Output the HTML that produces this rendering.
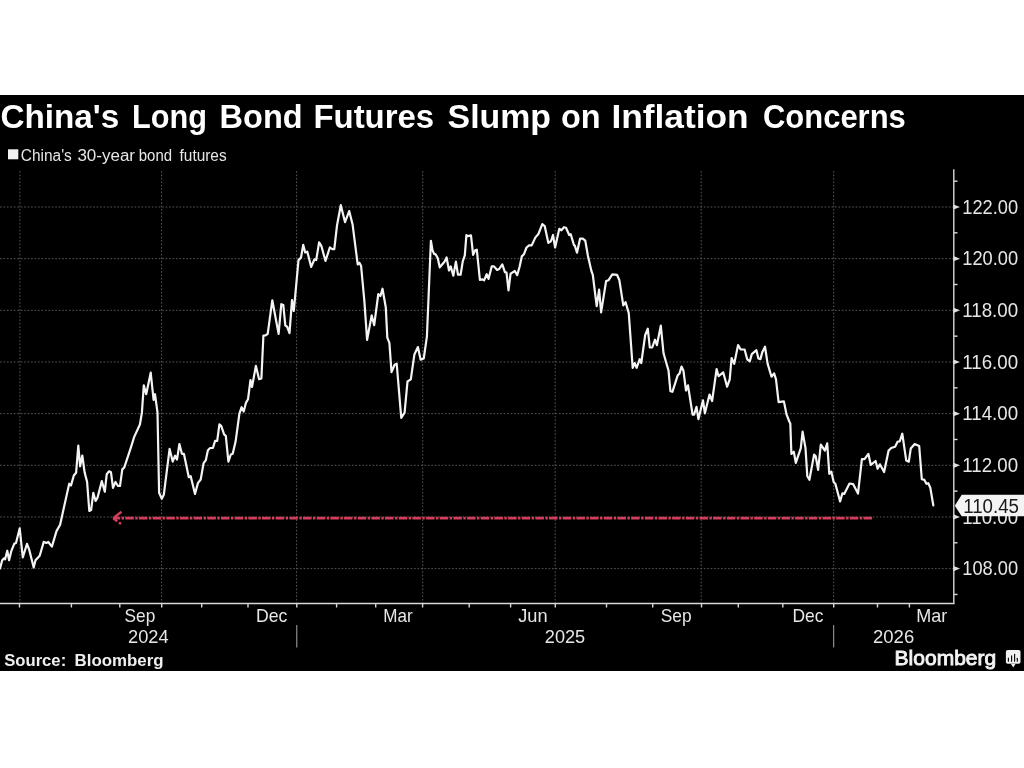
<!DOCTYPE html>
<html><head><meta charset="utf-8"><title>China's Long Bond Futures Slump on Inflation Concerns</title>
<style>
html,body{margin:0;padding:0;background:#fff;width:1024px;height:768px;overflow:hidden}
svg{display:block;will-change:transform}
text{font-family:"Liberation Sans",sans-serif}
</style></head><body>
<svg width="1024" height="768" viewBox="0 0 1024 768">
<rect x="0" y="0" width="1024" height="768" fill="#ffffff"/>
<rect x="0" y="95" width="1024" height="576" fill="#000000"/>
<g fill="#ffffff" font-weight="bold" font-size="33.5"><text x="0.4" y="127.5" textLength="118.8" lengthAdjust="spacingAndGlyphs">China's</text><text x="132.0" y="127.5" textLength="75.0" lengthAdjust="spacingAndGlyphs">Long</text><text x="219.6" y="127.5" textLength="83.0" lengthAdjust="spacingAndGlyphs">Bond</text><text x="313.4" y="127.5" textLength="120.8" lengthAdjust="spacingAndGlyphs">Futures</text><text x="447.6" y="127.5" textLength="103.4" lengthAdjust="spacingAndGlyphs">Slump</text><text x="561.0" y="127.5" textLength="39.6" lengthAdjust="spacingAndGlyphs">on</text><text x="611.4" y="127.5" textLength="137.2" lengthAdjust="spacingAndGlyphs">Inflation</text><text x="763.0" y="127.5" textLength="142.8" lengthAdjust="spacingAndGlyphs">Concerns</text></g>
<rect x="8" y="149.3" width="10.3" height="10" fill="#f2f2f2"/>
<g fill="#e6e6e6" font-size="16"><text x="20.8" y="160.5" textLength="51.0" lengthAdjust="spacingAndGlyphs">China's</text><text x="77.4" y="160.5" textLength="57.6" lengthAdjust="spacingAndGlyphs">30-year</text><text x="138.8" y="160.5" textLength="33.2" lengthAdjust="spacingAndGlyphs">bond</text><text x="179.6" y="160.5" textLength="47.0" lengthAdjust="spacingAndGlyphs">futures</text></g>
<g stroke="#555555" stroke-width="1" stroke-dasharray="1.7 1.75" fill="none"><line x1="0" y1="568.62" x2="953" y2="568.62"/><line x1="0" y1="516.96" x2="953" y2="516.96"/><line x1="0" y1="465.3" x2="953" y2="465.3"/><line x1="0" y1="413.64" x2="953" y2="413.64"/><line x1="0" y1="361.98" x2="953" y2="361.98"/><line x1="0" y1="310.32" x2="953" y2="310.32"/><line x1="0" y1="258.66" x2="953" y2="258.66"/><line x1="0" y1="207" x2="953" y2="207"/><line x1="19.9" y1="171" x2="19.9" y2="603"/><line x1="161.6" y1="171" x2="161.6" y2="603"/><line x1="296.6" y1="171" x2="296.6" y2="603"/><line x1="422.7" y1="171" x2="422.7" y2="603"/><line x1="555.2" y1="171" x2="555.2" y2="603"/><line x1="701.2" y1="171" x2="701.2" y2="603"/><line x1="833.7" y1="171" x2="833.7" y2="603"/></g>
<g stroke="#d8d8d8" stroke-width="1.4" fill="none">
<line x1="0" y1="603.5" x2="954.5" y2="603.5"/>
<line x1="953.8" y1="169.3" x2="953.8" y2="603.5"/>
<line x1="19.5" y1="603" x2="19.5" y2="607.5"/><line x1="71.4" y1="603" x2="71.4" y2="607.5"/><line x1="119.8" y1="603" x2="119.8" y2="607.5"/><line x1="161.7" y1="603" x2="161.7" y2="607.5"/><line x1="201.7" y1="603" x2="201.7" y2="607.5"/><line x1="248" y1="603" x2="248" y2="607.5"/><line x1="296.8" y1="603" x2="296.8" y2="607.5"/><line x1="336.6" y1="603" x2="336.6" y2="607.5"/><line x1="375.7" y1="603" x2="375.7" y2="607.5"/><line x1="422.6" y1="603" x2="422.6" y2="607.5"/><line x1="469.2" y1="603" x2="469.2" y2="607.5"/><line x1="510.6" y1="603" x2="510.6" y2="607.5"/><line x1="555.3" y1="603" x2="555.3" y2="607.5"/><line x1="606.5" y1="603" x2="606.5" y2="607.5"/><line x1="652.7" y1="603" x2="652.7" y2="607.5"/><line x1="701.5" y1="603" x2="701.5" y2="607.5"/><line x1="738.3" y1="603" x2="738.3" y2="607.5"/><line x1="782.8" y1="603" x2="782.8" y2="607.5"/><line x1="833.7" y1="603" x2="833.7" y2="607.5"/><line x1="877.5" y1="603" x2="877.5" y2="607.5"/><line x1="909.4" y1="603" x2="909.4" y2="607.5"/><line x1="953.5" y1="181.17" x2="957.5" y2="181.17"/><line x1="953.5" y1="232.83" x2="957.5" y2="232.83"/><line x1="953.5" y1="284.49" x2="957.5" y2="284.49"/><line x1="953.5" y1="336.15" x2="957.5" y2="336.15"/><line x1="953.5" y1="387.81" x2="957.5" y2="387.81"/><line x1="953.5" y1="439.47" x2="957.5" y2="439.47"/><line x1="953.5" y1="491.13" x2="957.5" y2="491.13"/><line x1="953.5" y1="542.79" x2="957.5" y2="542.79"/><line x1="953.5" y1="594.45" x2="957.5" y2="594.45"/>
</g>
<g stroke="#a8a8a8" stroke-width="1"><line x1="296.8" y1="625" x2="296.8" y2="647.5"/><line x1="833.7" y1="625" x2="833.7" y2="647.5"/></g>
<g fill="#e0e0e0"><path d="M953.5,566.02 L960,568.62 L953.5,571.22 Z"/><path d="M953.5,514.36 L960,516.96 L953.5,519.56 Z"/><path d="M953.5,462.7 L960,465.3 L953.5,467.9 Z"/><path d="M953.5,411.04 L960,413.64 L953.5,416.24 Z"/><path d="M953.5,359.38 L960,361.98 L953.5,364.58 Z"/><path d="M953.5,307.72 L960,310.32 L953.5,312.92 Z"/><path d="M953.5,256.06 L960,258.66 L953.5,261.26 Z"/><path d="M953.5,204.4 L960,207 L953.5,209.6 Z"/></g>
<g fill="#e6e6e6" font-size="19.3"><text x="962.3" y="575.32" textLength="55.8" lengthAdjust="spacingAndGlyphs">108.00</text><text x="962.3" y="523.66" textLength="55.8" lengthAdjust="spacingAndGlyphs">110.00</text><text x="962.3" y="472" textLength="55.8" lengthAdjust="spacingAndGlyphs">112.00</text><text x="962.3" y="420.34" textLength="55.8" lengthAdjust="spacingAndGlyphs">114.00</text><text x="962.3" y="368.68" textLength="55.8" lengthAdjust="spacingAndGlyphs">116.00</text><text x="962.3" y="317.02" textLength="55.8" lengthAdjust="spacingAndGlyphs">118.00</text><text x="962.3" y="265.36" textLength="55.8" lengthAdjust="spacingAndGlyphs">120.00</text><text x="962.3" y="213.7" textLength="55.8" lengthAdjust="spacingAndGlyphs">122.00</text></g>
<g fill="#e6e6e6" font-size="18.5"><text x="124.6" y="621.8" textLength="30.6" lengthAdjust="spacingAndGlyphs">Sep</text><text x="256.0" y="621.8" textLength="31.4" lengthAdjust="spacingAndGlyphs">Dec</text><text x="383.2" y="621.8" textLength="29.4" lengthAdjust="spacingAndGlyphs">Mar</text><text x="518.2" y="621.8" textLength="29.4" lengthAdjust="spacingAndGlyphs">Jun</text><text x="660.8" y="621.8" textLength="30.8" lengthAdjust="spacingAndGlyphs">Sep</text><text x="792.4" y="621.8" textLength="31.0" lengthAdjust="spacingAndGlyphs">Dec</text><text x="916.2" y="621.8" textLength="31.0" lengthAdjust="spacingAndGlyphs">Mar</text><text x="128.0" y="643.3" textLength="40.6" lengthAdjust="spacingAndGlyphs">2024</text><text x="544.8" y="643.3" textLength="40.4" lengthAdjust="spacingAndGlyphs">2025</text><text x="873.0" y="643.3" textLength="41.2" lengthAdjust="spacingAndGlyphs">2026</text></g>
<path d="M872,518.2 L114,518.2" stroke="#d43e5c" stroke-width="2.7" stroke-dasharray="8.5 1.3 2.4 1.47" fill="none"/>
<path d="M121.5,511.8 L113.2,518.2" stroke="#d43e5c" stroke-width="2.4" fill="none"/><path d="M113.2,518.2 L121,524" stroke="#d43e5c" stroke-width="2.4" stroke-dasharray="5 2.2 3" fill="none"/>
<path d="M0,568.4 2.2,560.2 4,558.4 5.1,559.3 7.3,550.7 9.1,560.2 11.3,551.1 14.2,543.8 16,542.9 19.7,528.3 22.8,557.5 27,543.8 29.1,549.3 33.7,567.5 35.5,560.2 39.7,555.7 43.7,542 46.4,542.9 48.3,542 51.9,546.6 56.5,531.1 60.1,524.7 69.2,483.7 71,485.5 73.8,475.5 76.1,472.8 78.3,445.5 80.1,466.4 82.3,455.5 84.7,472.8 87.1,481.9 89.3,511 91.1,510.1 93.3,492.8 95.6,501 97.5,497.7 101.8,481.1 104.8,491.8 106.7,474.3 109.1,471.3 111,472.3 113,487.9 115.5,482 118,486 120,486 122.3,469.4 124.3,467.4 128.2,455.7 131.1,446.9 134.1,437.1 139.9,424.5 141.9,412.7 143.8,385.4 146.2,394.2 150.7,372.7 153.6,400 155,394.2 157.5,412.7 159.1,492.8 161.8,498.7 163.8,494.8 169.6,448.9 172.7,461.6 175.1,455.7 177,459.6 179.4,444 181.9,453.8 183.9,453.8 188.8,477.2 190.7,476.2 195,493.9 197.9,483.1 200.7,479.5 203.6,463.1 205.8,460.2 207.9,450.2 210.1,448 212.9,448 215.1,440.9 217.2,440.9 219.4,424.4 221.2,425.8 224.1,434.4 225.8,435.8 228.4,461.6 230.8,454.5 232.7,453.8 235.6,441.6 239.4,413.6 241.6,407.2 243.7,411.5 245.9,402.9 248,399.3 250.5,380 252,387 255.9,365.9 259.1,379.2 261.4,378.4 263.4,335.5 265.3,335.5 267.7,333.9 272.3,300.3 278.6,333.9 281.3,304.2 283.3,305 285.3,325.3 287.2,326.9 289.5,333.1 292,300 293.8,311 298.5,260.1 301,257.6 303.2,244.9 305.2,252.5 307.3,251.7 311.2,266.9 314.5,259.3 316.2,260.1 319.1,242.4 321.3,245.8 325.5,261 329.8,247.5 332.3,249.1 334.3,249.1 337,225.5 340.8,205.2 345,222.1 349.2,211.1 352.6,224.6 357.7,264.4 359.4,262.7 361.1,266.1 364.4,301.3 367.1,339.8 371.7,315.4 374.2,325.2 378.3,294 380.4,296 382.5,288.75 385.8,307.5 387.3,337.7 389.4,342.9 391.5,372.1 394.6,364.8 396.7,363.75 401.25,417.9 404.6,412.7 407.5,381.5 410.8,379.4 414.4,354.4 417.9,347.1 420.6,359.6 423.75,358.5 426.9,336.7 430.9,240.8 432.5,250.2 434.1,253.9 435.6,254.4 437.7,258 439.8,267.4 441.9,264.8 444.5,261.7 446.6,257.5 449,270.5 450.7,266.4 453.3,275.7 455.9,261.7 458,274.7 460.6,274.7 462.7,261.7 464.8,255.4 466.4,235.1 467.9,236.1 471,235.4 473.1,254.9 475.2,250.2 476.8,249.7 479.9,279.9 482.5,279.4 484.1,280.4 486.7,274.2 488.5,278.9 491.7,266.4 494,266.4 497.1,270 499.2,269 502.3,264.3 504.9,272.1 506.5,272.6 508.5,290.3 510.6,273.6 514.8,271 517.2,275.1 519.7,266.25 521.8,256.4 523.9,254.3 526.5,247.5 529.1,245.4 531.7,245.4 535.3,237.6 538.4,234 542.3,224.1 544.7,226.1 548.3,242.8 550.9,241.25 553,235 555.1,247.5 559.3,228.75 561.4,230.3 564,227.2 566,227.7 569.2,235 570.7,234.2 573.9,244.9 574.9,245.9 577,252.7 580.1,238.6 582.7,238.6 585.3,240.7 587.9,255.8 591.4,271 592.8,274.8 596.7,306.1 599.1,289.7 601.1,312.3 606.1,281.1 608.4,280.3 612.3,274.4 617,274.8 619.4,280.3 623.3,305.3 625.6,302.2 628.75,313.1 632.7,367.8 634.7,363.1 636.6,367.8 639.7,359.2 641.25,363.1 645.2,335 647.8,328.75 649.8,347.5 652.2,347.5 655,339.7 656.9,345.2 660.8,325.6 663.5,353 666,362 668.5,370.4 670.4,391.2 672.4,391.8 677.6,375.6 679.5,373.6 681.5,366.5 683.4,370.4 686,390.5 688,385.3 692.6,414.6 694.1,414.6 696.5,406.8 698.4,419.2 703,400.3 704.9,413.3 709.5,394.5 712.1,401 716.6,369.1 718.6,376.2 723.2,372.3 727.1,386.6 729.7,379.5 731.6,358 734.2,363.9 738.1,345 740.7,349.5 744.6,349.5 747.2,359.3 749.8,361.25 751.8,354.1 756.4,350.2 758.4,358.5 760.4,359.1 762.4,351.9 765,346.7 767.6,363.6 771.5,376.7 774.1,373.4 776,379.3 778.6,402.1 783.9,401.4 786.5,414.4 789.5,422 790.3,423.5 791.4,454 793.8,451.7 795.8,462.8 800.8,448.1 802.6,431.7 805.5,448.1 807.3,476.3 809.4,479.8 814.1,454.6 815.7,456.3 818.1,469.8 820.8,444.6 824.9,450.5 827.2,443.4 829.3,473.9 831.3,471.6 833.65,482.1 835.4,483.9 840.1,501.5 842.4,493.3 844.2,493.9 849.5,483.5 853.2,484.2 858,493.6 861.9,459.1 864.5,459.1 868.4,453.9 870.8,464.9 875.6,461 877.6,468.8 879.9,464.3 884.1,472.1 888.6,450.6 891.2,448 895.1,446.7 897.7,441.5 899.7,441.5 902.3,433.7 906.2,460.4 908.8,461.7 910.75,448.6 914.7,444.1 919.2,446 921.8,479.2 924.4,479.9 926.4,483.8 928.3,483.2 930.3,487.7 933.3,505.3" stroke="#f4f4f4" stroke-width="2.2" fill="none" stroke-linejoin="round" stroke-linecap="round"/>
<path d="M954.8,505.8 L961.7,494.8 L1024,494.8 L1024,516.2 L961.7,516.2 Z" fill="#f4f4f4"/>
<text x="963.2" y="512.7" fill="#1a1a1a" font-size="19.3" textLength="55.8" lengthAdjust="spacingAndGlyphs">110.45</text>
<g fill="#f0f0f0" font-weight="bold" font-size="16"><text x="4.2" y="665.9" textLength="62" lengthAdjust="spacingAndGlyphs">Source:</text><text x="74.6" y="665.9" textLength="89" lengthAdjust="spacingAndGlyphs">Bloomberg</text></g>
<text x="894.6" y="664.7" fill="#f4f4f4" stroke="#f4f4f4" stroke-width="0.9" font-size="21" textLength="101.6" lengthAdjust="spacingAndGlyphs">Bloomberg</text>
<g fill="#f0f0f0">
<rect x="1005.9" y="649.9" width="14.6" height="13.9" rx="1.8"/>
<path d="M1011,664 L1013.2,667.5 L1015.5,664 Z"/>
</g>
<g stroke="#000" stroke-width="1.1" stroke-linecap="round">
<line x1="1008.4" y1="658" x2="1008.4" y2="661.3"/>
<line x1="1011.6" y1="655.8" x2="1011.6" y2="661.3"/>
<line x1="1014.6" y1="654.3" x2="1014.6" y2="661.3"/>
<line x1="1017.3" y1="658.2" x2="1017.3" y2="661.3"/>
</g>
</svg>
</body></html>
